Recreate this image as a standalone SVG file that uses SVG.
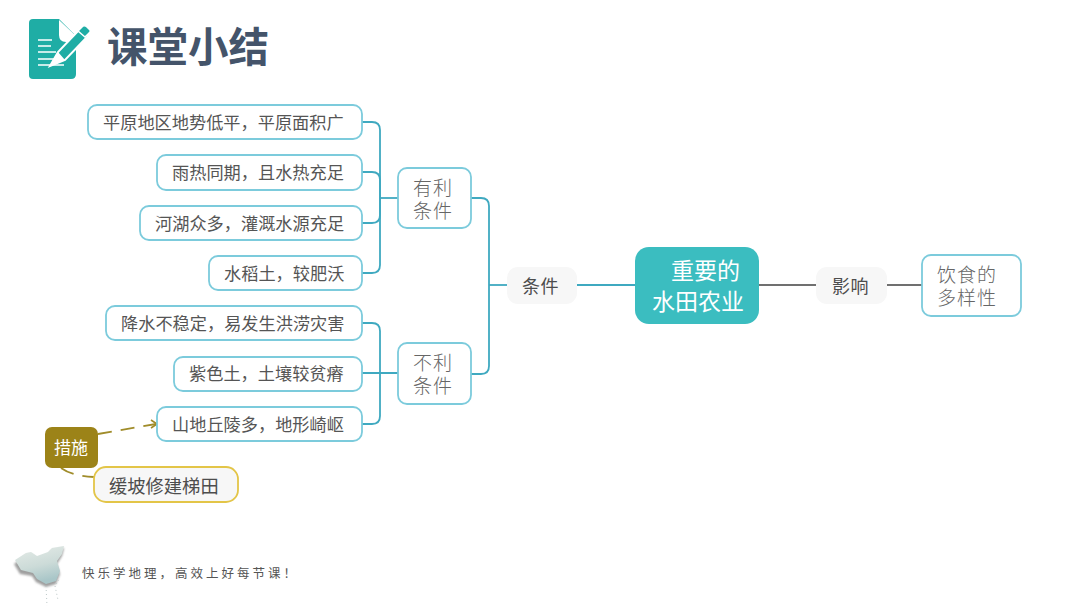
<svg xmlns="http://www.w3.org/2000/svg" width="1080" height="608" viewBox="0 0 1080 608">
<defs>
<linearGradient id="mapg" x1="0" y1="0" x2="0.3" y2="1"><stop offset="0" stop-color="#e6ece8"/><stop offset="0.6" stop-color="#ccdbd8"/><stop offset="1" stop-color="#a9c6c8"/></linearGradient>
<filter id="soft" x="-20%" y="-20%" width="140%" height="140%"><feGaussianBlur stdDeviation="1.3"/></filter>
</defs>
<style>
text{font-family:"Noto Sans CJK SC","Noto Sans",sans-serif}
.box{fill:#fff;stroke:#7ccbdc;stroke-width:1.8}
.leaf{font-size:17.2px;fill:#555}
.big{font-size:19px;fill:#666;letter-spacing:1px;font-weight:300}
.pill{fill:#f7f7f7}
.mid{font-size:18px;fill:#4d4d4d;letter-spacing:.5px}
.teal{fill:none;stroke:#3fa9c0;stroke-width:1.8}
.grey{fill:none;stroke:#707070;stroke-width:1.8}
.olive{fill:none;stroke:#a08c2a;stroke-width:1.8;stroke-dasharray:14 9}
</style>
<rect width="1080" height="608" fill="#fff"/>

<g id="icon">
<path d="M33 19H59L76 36V74Q76 79 71 79H33Q29 79 29 75V23Q29 19 33 19Z" fill="#1fada5"/>
<path d="M59 20L76 36V42H66Q59 42 59 35Z" fill="#fff"/>
<path d="M38 40H52M38 46H51M38 52H56M38 59H56M38 65H64" stroke="#fff" stroke-width="1.6" fill="none"/>
<path d="M50 66L58 52L80 29L88 36L65 60Z" fill="#1fada5" stroke="#fff" stroke-width="2"/>
<path d="M78 31L83 26Q85 25 87 27L90 30Q91 32 89 33L85 37Z" fill="#1fada5" stroke="#fff" stroke-width="1.5"/>
<path d="M50 66L58 52L65 60Z" fill="#fff"/>
</g>
<text x="107" y="62" font-size="40.5" font-weight="700" fill="#44546a">课堂小结</text>

<g id="connectors">
<path class="teal" d="M362 122H372Q380 122 380 130V265Q380 273 372 273H362"/>
<path class="teal" d="M362 172H372Q380 172 380 180V215Q380 223 372 223H362"/>
<path class="teal" d="M380 198H398"/>
<path class="teal" d="M362 323H372Q380 323 380 331V416Q380 424 372 424H362"/>
<path class="teal" d="M362 373H398"/>
<path class="teal" d="M471 198H481Q489 198 489 206V366Q489 374 481 374H471"/>
<path class="teal" d="M489 285H507"/>
<path class="teal" d="M577 285H635"/>
<path class="grey" d="M759 285H816"/>
<path class="grey" d="M887 285H922"/>
<path class="olive" d="M98 434L156 424"/>
<path fill="none" stroke="#a08c2a" stroke-width="1.6" d="M151 420L157 424L151 428"/>
<path class="olive" d="M61 468Q72 476 94 477"/>
</g>

<g id="n1"><rect class="box" x="88" y="105" width="274" height="34" rx="9"/><text class="leaf" x="103" y="129">平原地区地势低平，平原面积广</text></g>
<g id="n2"><rect class="box" x="157" y="155" width="205" height="35" rx="9"/><text class="leaf" x="172" y="179">雨热同期，且水热充足</text></g>
<g id="n3"><rect class="box" x="140" y="206" width="222" height="34" rx="9"/><text class="leaf" x="155" y="230">河湖众多，灌溉水源充足</text></g>
<g id="n4"><rect class="box" x="209" y="256" width="153" height="34" rx="9"/><text class="leaf" x="224" y="280">水稻土，较肥沃</text></g>
<g id="n5"><rect class="box" x="106" y="306" width="256" height="34" rx="9"/><text class="leaf" x="121" y="330">降水不稳定，易发生洪涝灾害</text></g>
<g id="n6"><rect class="box" x="174" y="357" width="188" height="34" rx="9"/><text class="leaf" x="189" y="380">紫色土，土壤较贫瘠</text></g>
<g id="n7"><rect class="box" x="157" y="407" width="205" height="34" rx="9"/><text class="leaf" x="172" y="431">山地丘陵多，地形崎岖</text></g>

<g id="youli"><rect class="box" x="398" y="168" width="73" height="60" rx="9"/><text class="big"><tspan x="413" y="195">有利</tspan><tspan x="413" y="218">条件</tspan></text></g>
<g id="buli"><rect class="box" x="398" y="343" width="73" height="61" rx="9"/><text class="big"><tspan x="413" y="370">不利</tspan><tspan x="413" y="393">条件</tspan></text></g>
<g id="tiaojian"><rect class="pill" x="507" y="267" width="70" height="37" rx="11"/><text class="mid" x="522" y="293">条件</text></g>
<g id="center"><rect x="635" y="247" width="124" height="77" rx="14" fill="#3bbdc0"/><text font-size="23" fill="#fff"><tspan x="671" y="279">重要的</tspan><tspan x="652" y="310">水田农业</tspan></text></g>
<g id="yingxiang"><rect class="pill" x="816" y="267" width="71" height="37" rx="11"/><text class="mid" x="832" y="293">影响</text></g>
<g id="yinshi"><rect class="box" x="922" y="255" width="99" height="61" rx="9"/><text class="big"><tspan x="937" y="282">饮食的</tspan><tspan x="937" y="305">多样性</tspan></text></g>
<g id="cuoshi"><rect x="45" y="427" width="53" height="41" rx="7" fill="#9c8318"/><text x="54" y="454" font-size="17" fill="#fff">措施</text></g>
<g id="tiandi"><rect x="94" y="467" width="144" height="35" rx="12" fill="#f7f7f7" stroke="#e3c548" stroke-width="1.8"/><text x="109" y="493" font-size="18.3" fill="#4d4d4d">缓坡修建梯田</text></g>

<g id="map">
<path d="M14 562L26 553L31 552L37 557L48 553L52 548L64 546L62 554L57 562L60 572L56 582L46 585L36 580L32 574L20 572Z" fill="#777" opacity=".7" filter="url(#soft)" transform="translate(0 2)"/>
<path d="M15 560L26 553L31 552L37 556L48 552L52 548L64 546L62 554L57 561L60 571L56 581L46 584L37 579L33 573L21 570Z" fill="url(#mapg)"/>
<path d="M56 584L60 578M46 586L47 606M55 586L58 600" stroke="#bcc8c8" stroke-width="1" stroke-dasharray="1 3" fill="none"/>
</g>
<text x="82" y="578" font-size="12.5" fill="#555" letter-spacing="3">快乐学地理，高效上好每节课！</text>
</svg>
